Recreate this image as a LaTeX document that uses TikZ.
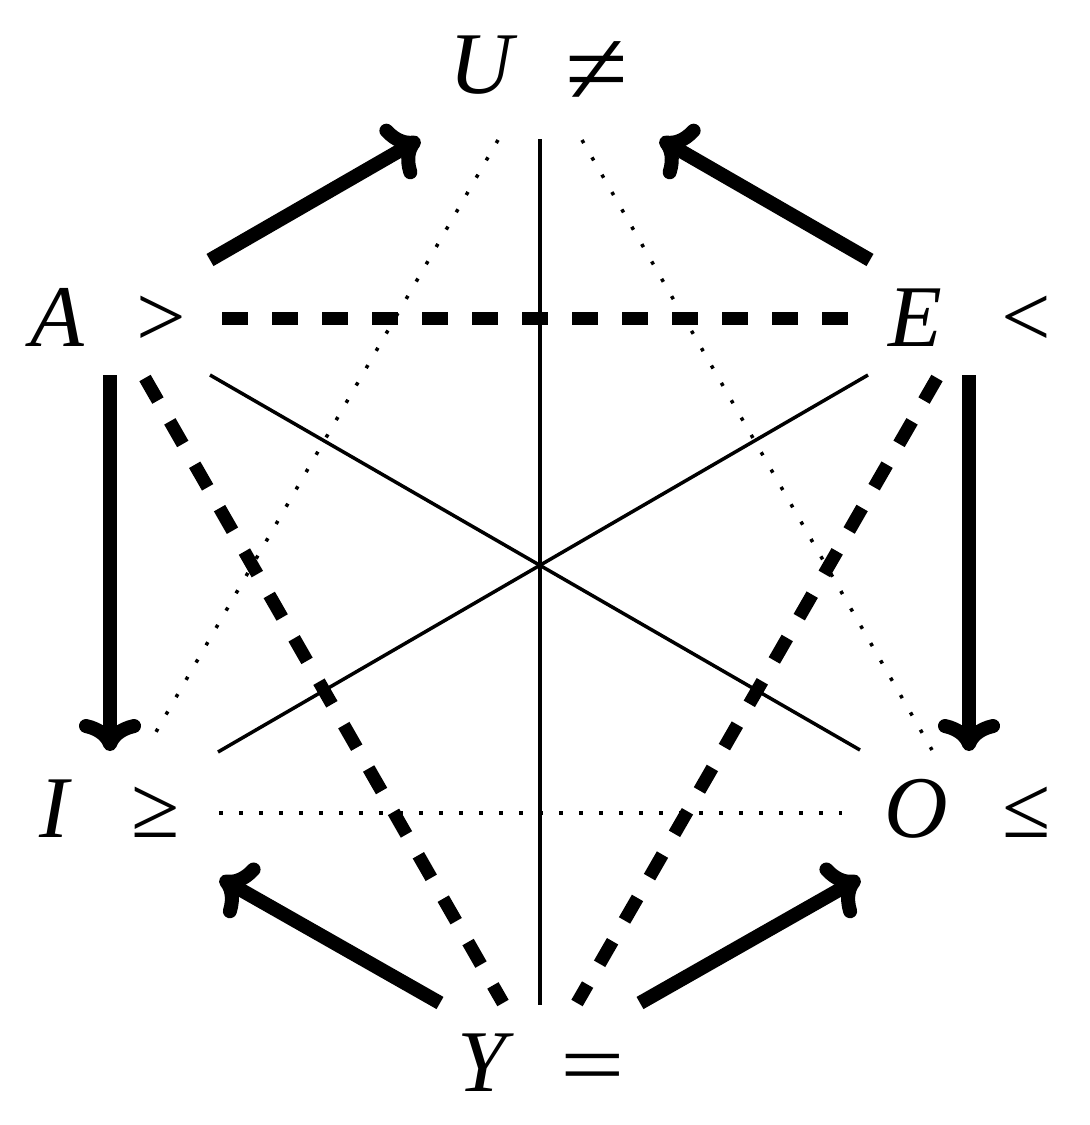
\documentclass[tikz,border=0pt]{standalone}
\usepackage{fontspec}
\usepackage{graphicx}
\setmainfont{Liberation Serif}
\usetikzlibrary{arrows.meta}
\begin{document}
\begin{tikzpicture}[x=1pt,y=-1pt,
  lbl/.style={anchor=base, inner sep=0pt, font=\fontsize{88}{96}\selectfont\itshape},
  rel/.style={anchor=base, inner sep=0pt, font=\fontsize{88}{96}\selectfont},
  implarrow/.style={line width=14pt, -{Computer Modern Rightarrow[length=32pt,width=62pt]}},
  contra/.style={line width=13pt, dash pattern=on 26pt off 24pt},
  subcontra/.style={line width=3.5pt, dash pattern=on 3.5pt off 16.5pt},
  thinline/.style={line width=3.5pt}]
\useasboundingbox (0,0) rectangle (1090,1125);
% labels
\node[lbl] (U) at (481,93) {U};
\node[rel] (Urel) at (597,104) {\scalebox{1.3}[1.2]{≠}};
\node[lbl] (A) at (57,346) {A};
\node[rel] (Arel) at (161,346) {>};
\node[lbl] (E) at (915,346) {E};
\node[rel] (Erel) at (1026,346) {<};
\node[lbl] (I) at (54,837) {I};
\node[rel] (Irel) at (156,837) {≥};
\node[lbl] (O) at (916,837) {O};
\node[rel] (Orel) at (1027,837) {≤};
\node[lbl] (Y) at (482,1091) {Y};
\node[rel] (Yrel) at (593,1094) {\scalebox{1.3}[1]{=}};
% endpoints
\coordinate (aU1) at (210,260);  \coordinate (aU2) at (420,139);
\coordinate (eU1) at (870,260);  \coordinate (eU2) at (660,139);
\coordinate (aI1) at (110,375);  \coordinate (aI2) at (110,751);
\coordinate (eO1) at (969,375);  \coordinate (eO2) at (969,751);
\coordinate (yI1) at (440,1003); \coordinate (yI2) at (220,878);
\coordinate (yO1) at (640,1003); \coordinate (yO2) at (860,878);
\coordinate (aE1) at (222,318);  \coordinate (aE2) at (848,318);
\coordinate (aY1) at (145,378);  \coordinate (aY2) at (503,1003);
\coordinate (eY1) at (937,378);  \coordinate (eY2) at (577,1003);
\coordinate (uY1) at (540,139);  \coordinate (uY2) at (540,1005);
\coordinate (aO1) at (210,375);  \coordinate (aO2) at (860,750);
\coordinate (eI1) at (868,375);  \coordinate (eI2) at (218,752);
\coordinate (uI1) at (498,140);  \coordinate (uI2) at (149,744);
\coordinate (uO1) at (582,140);  \coordinate (uO2) at (932,750);
\coordinate (iO1) at (219,813);  \coordinate (iO2) at (842,813);
% connectors
\draw[implarrow] (aU1) -- (aU2);
\draw[implarrow] (eU1) -- (eU2);
\draw[implarrow] (aI1) -- (aI2);
\draw[implarrow] (eO1) -- (eO2);
\draw[implarrow] (yI1) -- (yI2);
\draw[implarrow] (yO1) -- (yO2);
\draw[contra] (aE1) -- (aE2);
\draw[contra] (aY1) -- (aY2);
\draw[contra] (eY1) -- (eY2);
\draw[thinline] (uY1) -- (uY2);
\draw[thinline] (aO1) -- (aO2);
\draw[thinline] (eI1) -- (eI2);
\draw[subcontra] (uI1) -- (uI2);
\draw[subcontra] (uO1) -- (uO2);
\draw[subcontra] (iO1) -- (iO2);
\end{tikzpicture}
\end{document}
